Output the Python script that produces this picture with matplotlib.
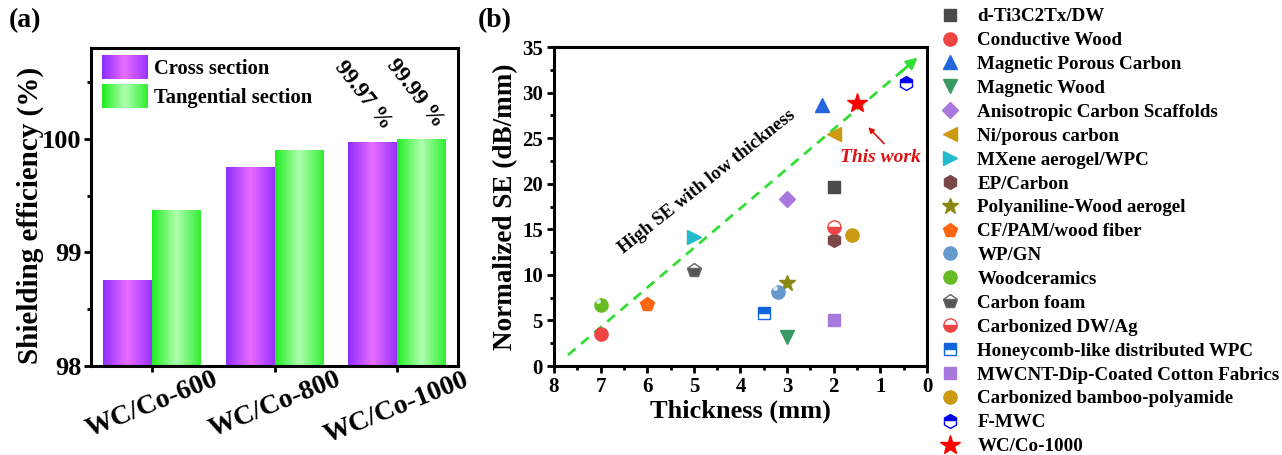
import matplotlib
matplotlib.use("Agg")
import matplotlib.pyplot as plt
import numpy as np
from matplotlib.patches import Rectangle
from matplotlib.legend_handler import HandlerBase
from matplotlib.colors import to_rgb
from matplotlib.ticker import MultipleLocator

plt.rcParams['font.family'] = ['Liberation Serif', 'DejaVu Serif']
plt.rcParams['font.weight'] = 'bold'
plt.rcParams['axes.labelweight'] = 'bold'

# ---------------- data (a) ----------------
samples = ['WC/Co-600', 'WC/Co-800', 'WC/Co-1000']
cross = [98.75, 99.75, 99.97]
tangential = [99.37, 99.90, 99.99]
series_names = ['Cross section', 'Tangential section']
value_labels = ['99.97 %', '99.99 %']

# ---------------- data (b) ----------------
materials = ['d-Ti3C2Tx/DW', 'Conductive Wood', 'Magnetic Porous Carbon', 'Magnetic Wood',
             'Anisotropic Carbon Scaffolds', 'Ni/porous carbon', 'MXene aerogel/WPC', 'EP/Carbon',
             'Polyaniline-Wood aerogel', 'CF/PAM/wood fiber', 'WP/GN', 'Woodceramics',
             'Carbon foam', 'Carbonized DW/Ag', 'Honeycomb-like distributed WPC',
             'MWCNT-Dip-Coated Cotton Fabrics', 'Carbonized bamboo-polyamide', 'F-MWC', 'WC/Co-1000']
thickness = [2.0, 7.0, 2.25, 3.0, 3.0, 2.0, 5.0, 2.0, 3.0, 6.0, 3.2, 7.0, 5.0, 2.0, 3.5, 2.0, 1.6, 0.45, 1.5]
norm_se = [19.6, 3.5, 28.6, 3.2, 18.3, 25.4, 14.2, 13.8, 9.15, 6.8, 8.1, 6.7, 10.5, 15.3, 5.8, 5.0, 14.4, 31.0, 28.9]
trend_x = [7.7, 0.3]
trend_y = [1.2, 33.4]

# marker styles: (marker, size, face, alt face, edge, fillstyle, sphere)
styles = [
    ('s', 9, '#4a4a4a', None, '#4a4a4a', 'full', False),
    ('o', 9.5, '#ee4444', None, '#ee4444', 'full', False),
    ('^', 10, '#2266dd', None, '#2266dd', 'full', False),
    ('v', 10, '#3a9a66', None, '#3a9a66', 'full', False),
    ('D', 8, '#a978dd', None, '#a978dd', 'full', False),
    ('<', 10, '#cc9911', None, '#cc9911', 'full', False),
    ('>', 10, '#22bbcc', None, '#22bbcc', 'full', False),
    ('h', 10, '#7a4848', None, '#7a4848', 'full', False),
    ('*', 12, '#888811', None, '#888811', 'full', False),
    ('p', 10, '#ff6611', None, '#ff6611', 'full', False),
    ('o', 9.5, '#6699cc', None, '#6699cc', 'full', True),
    ('o', 9.5, '#66bb22', None, '#66bb22', 'full', True),
    ('p', 10, '#555555', 'white', '#666666', 'bottom', False),
    ('o', 9.5, '#ee4444', 'white', '#ee4444', 'bottom', False),
    ('s', 9, '#1166dd', 'white', '#1166dd', 'top', False),
    ('s', 9, '#a978dd', None, '#a978dd', 'full', False),
    ('o', 9.5, '#cc9911', None, '#cc9911', 'full', False),
    ('h', 10, '#0000ee', 'white', '#0000ee', 'top', False),
    ('*', 15, '#ff0000', None, '#ff0000', 'full', False),
]

purple = [(0.0, '#8f2eff'), (0.5, '#e86cff'), (1.0, '#9a33ff')]
green = [(0.0, '#22ee22'), (0.5, '#b0ffb0'), (1.0, '#33ee33')]


def grad_colors(stops, n):
    t = np.linspace(0, 1, n)
    pos = [s[0] for s in stops]
    cols = np.array([to_rgb(s[1]) for s in stops])
    return np.stack([np.interp(t, pos, cols[:, k]) for k in range(3)], axis=1)


class GradHandler(HandlerBase):
    def __init__(self, stops):
        super().__init__()
        self.stops = stops

    def create_artists(self, legend, orig_handle, xdescent, ydescent, width, height, fontsize, trans):
        n = 30
        cols = grad_colors(self.stops, n)
        arts = []
        for i in range(n):
            r = Rectangle((-xdescent + width * i / n, -ydescent - 0.35 * height), width / n * 1.05,
                          height * 1.7, facecolor=cols[i], edgecolor='none', transform=trans)
            arts.append(r)
        return arts


fig = plt.figure(figsize=(12.82, 4.55), dpi=100)

# ---------------- panel (a) ----------------
axa = fig.add_axes([0.0710, 0.1956, 0.2863, 0.6989])
w = 0.4
base = 98.0
x = np.arange(len(samples))
handles = []
for vals, off, stops, name in [(cross, -w / 2, purple, series_names[0]), (tangential, w / 2, green, series_names[1])]:
    cols = grad_colors(stops, 64)[np.newaxis, :, :]
    for xi, v in zip(x, vals):
        axa.imshow(cols, extent=[xi + off - w / 2, xi + off + w / 2, base, v], aspect='auto',
                   interpolation='bilinear', zorder=2)
    h = Rectangle((0, 0), 1, 1, label=name)
    handles.append(h)

axa.set_xlim(-0.5, 2.5)
axa.set_ylim(98, 100.8)
axa.set_xticks(x)
axa.set_xticklabels(samples, rotation=22, ha='center', fontsize=20, fontweight='bold')
axa.set_yticks([98, 99, 100])
axa.yaxis.set_minor_locator(MultipleLocator(0.5))
axa.tick_params(axis='y', which='major', labelsize=19, width=2, length=5, direction='out', pad=2)
axa.tick_params(axis='y', which='minor', width=2, length=3, direction='out')
axa.tick_params(axis='x', which='major', width=2, length=4, direction='out', pad=-3)
for s in axa.spines.values():
    s.set_linewidth(2.2)
axa.set_ylabel('Shielding efficiency (%)', fontsize=21, fontweight='bold')
axa.yaxis.set_label_coords(-0.128, 0.472)
leg_a = axa.legend(handles, series_names, loc='upper left', frameon=False, fontsize=14.8,
                   handler_map={handles[0]: GradHandler(purple), handles[1]: GradHandler(green)},
                   handlelength=2.2, handletextpad=0.3, labelspacing=0.42,
                   bbox_to_anchor=(0.0, 1.0), borderaxespad=0.15)
axa.text(1.72, 100.38, value_labels[0], rotation=-52, ha='center', va='center', fontsize=16.5, fontweight='bold')
axa.text(2.15, 100.40, value_labels[1], rotation=-52, ha='center', va='center', fontsize=16.5, fontweight='bold')
fig.text(0.007, 0.955, '(a)', fontsize=20, fontweight='bold', ha='left', va='center')

# ---------------- panel (b) ----------------
axb = fig.add_axes([0.4321, 0.1956, 0.2910, 0.7011])
gcol = '#33dd33'
axb.plot(trend_x, trend_y, color=gcol, lw=2.0, ls=(0, (3.6, 2.6)), zorder=1)
axb.annotate('', xy=(0.2, 33.85), xytext=(0.55, 32.3),
             arrowprops=dict(arrowstyle='-|>', color=gcol, lw=2.0, mutation_scale=16, shrinkA=0, shrinkB=0))
leg_handles = []
for xi, yi, name, st in zip(thickness, norm_se, materials, styles):
    mk, ms, fc, fca, ec, fs, sphere = st
    kw = dict(marker=mk, markersize=ms, markerfacecolor=fc, markeredgecolor=ec, fillstyle=fs,
              markeredgewidth=1.0, ls='none', zorder=3)
    if fca is not None:
        kw['markerfacecoloralt'] = fca
    ln, = axb.plot([xi], [yi], **kw)
    if sphere:
        axb.plot([xi + 0.06], [yi + 0.45], marker='o', markersize=3.5, markerfacecolor='white',
                 markeredgecolor='none', alpha=0.8, ls='none', zorder=4)
    leg_handles.append(ln)

axb.text(4.72, 20.2, 'High SE with low thickness', rotation=38.5, ha='center', va='center',
         fontsize=13.6, fontweight='bold')
axb.text(1.0, 22.9, 'This work', color='#dd1111', fontsize=14, fontweight='bold', style='italic',
         ha='center', va='center')
axb.annotate('', xy=(1.26, 26.2), xytext=(0.92, 24.4),
             arrowprops=dict(arrowstyle='-|>', color='#dd1111', lw=1.2, mutation_scale=8, shrinkA=0, shrinkB=0))

axb.set_xlim(8, 0)
axb.set_ylim(0, 35)
axb.xaxis.set_major_locator(MultipleLocator(1))
axb.xaxis.set_minor_locator(MultipleLocator(0.5))
axb.yaxis.set_major_locator(MultipleLocator(5))
axb.yaxis.set_minor_locator(MultipleLocator(2.5))
axb.tick_params(which='major', labelsize=15, width=2, length=5, direction='out', pad=3)
axb.tick_params(which='minor', width=2, length=3, direction='out')
for lab in axb.get_xticklabels() + axb.get_yticklabels():
    lab.set_fontweight('bold')
for s in axb.spines.values():
    s.set_linewidth(2.2)
axb.set_xlabel('Thickness (mm)', fontsize=19, fontweight='bold', labelpad=2)
axb.set_ylabel('Normalized SE (dB/mm)', fontsize=19.5, fontweight='bold', labelpad=3)
fig.text(0.373, 0.955, '(b)', fontsize=20, fontweight='bold', ha='left', va='center')

fig.legend(leg_handles, materials, loc='upper left', bbox_to_anchor=(940 / 1282, 1 - 8 / 455),
           frameon=False, handlelength=1.0, handletextpad=0.97, labelspacing=0.345,
           borderpad=0, borderaxespad=0, prop={'weight': 'bold', 'size': 13.7})

fig.savefig('out.png', dpi=100)
